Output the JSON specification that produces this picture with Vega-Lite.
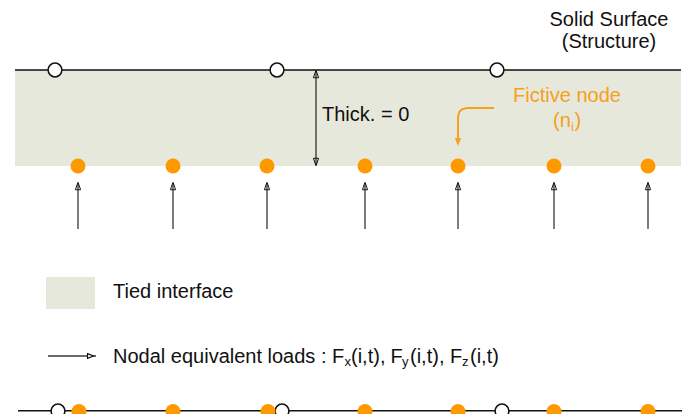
{
  "$schema": "https://vega.github.io/schema/vega-lite/v6.json",
  "width": 691,
  "height": 414,
  "padding": 0,
  "autosize": {"type": "none"},
  "background": "white",
  "config": {"view": {"stroke": null}, "font": "Liberation Sans"},
  "datasets": {
    "band": [
      {"x1": 15, "x2": 681, "y1": 70, "y2": 166},
      {"x1": 46, "x2": 95, "y1": 277, "y2": 309}
    ],
    "surface": [
      {"x1": 15, "x2": 681, "y": 70},
      {"x1": 18, "x2": 682, "y": 410.7}
    ],
    "shafts": [
      {"x": 78, "y1": 184, "y2": 229},
      {"x": 173, "y1": 184, "y2": 229},
      {"x": 267, "y1": 184, "y2": 229},
      {"x": 365, "y1": 184, "y2": 229},
      {"x": 458, "y1": 184, "y2": 229},
      {"x": 554, "y1": 184, "y2": 229},
      {"x": 648, "y1": 184, "y2": 229},
      {"x": 316, "y1": 71, "y2": 165}
    ],
    "legendArrow": [{"x1": 48, "x2": 96, "y": 356}],
    "heads": [
      {"x": 78, "y": 186, "dir": "up"},
      {"x": 173, "y": 186, "dir": "up"},
      {"x": 267, "y": 186, "dir": "up"},
      {"x": 365, "y": 186, "dir": "up"},
      {"x": 458, "y": 186, "dir": "up"},
      {"x": 554, "y": 186, "dir": "up"},
      {"x": 648, "y": 186, "dir": "up"},
      {"x": 316, "y": 74, "dir": "up"},
      {"x": 316, "y": 162, "dir": "down"}
    ],
    "legendHead": [{"x": 90.5, "y": 356}],
    "ghost": [
      {"x": 55, "y": 70}, {"x": 277, "y": 70}, {"x": 497, "y": 70},
      {"x": 58, "y": 411}, {"x": 282, "y": 411}, {"x": 502, "y": 411}
    ],
    "nodes": [
      {"x": 78, "y": 166}, {"x": 173, "y": 166}, {"x": 267, "y": 166}, {"x": 365, "y": 166},
      {"x": 458, "y": 166}, {"x": 554, "y": 166}, {"x": 648, "y": 166},
      {"x": 79, "y": 411.5}, {"x": 173, "y": 411.5}, {"x": 268, "y": 411.5}, {"x": 365, "y": 411.5},
      {"x": 458, "y": 411.5}, {"x": 554, "y": 411.5}, {"x": 648, "y": 411.5}
    ],
    "curve": [
      {"i": 1, "x": 494, "y": 108},
      {"i": 2, "x": 467, "y": 108},
      {"i": 3, "x": 462, "y": 109.3},
      {"i": 4, "x": 459.3, "y": 112},
      {"i": 5, "x": 458, "y": 117},
      {"i": 6, "x": 458, "y": 139}
    ],
    "curveHead": [{"x": 458, "y": 142}],
    "centerLabels": [
      {"t": "Solid Surface", "x": 609, "y": 26},
      {"t": "(Structure)", "x": 609, "y": 48}
    ],
    "orangeLabels": [
      {"t": "Fictive node", "x": 567, "y": 102}
    ],
    "orangeMain": [
      {"t": "(n", "x": 553, "y": 127},
      {"t": ")", "x": 574.5, "y": 127}
    ],
    "orangeSub": [
      {"t": "i", "x": 571, "y": 130.5}
    ],
    "mainText": [
      {"t": "Thick. = 0", "x": 322, "y": 121},
      {"t": "Tied interface", "x": 113, "y": 298},
      {"t": "Nodal equivalent loads : F", "x": 113, "y": 362.5},
      {"t": "(i,t),", "x": 351, "y": 362.5},
      {"t": "F", "x": 390.5, "y": 362.5},
      {"t": "(i,t),", "x": 410, "y": 362.5},
      {"t": "F", "x": 450, "y": 362.5},
      {"t": "(i,t)", "x": 470, "y": 362.5}
    ],
    "subText": [
      {"t": "x", "x": 344.5, "y": 366},
      {"t": "y", "x": 402, "y": 366},
      {"t": "z", "x": 462, "y": 366}
    ]
  },
  "encoding": {
    "x": {"field": "x", "type": "quantitative", "axis": null, "scale": {"domain": [0, 691], "nice": false, "zero": false}},
    "y": {"field": "y", "type": "quantitative", "axis": null, "scale": {"domain": [0, 414], "nice": false, "zero": false, "reverse": true}}
  },
  "layer": [
    {
      "data": {"name": "band"},
      "mark": {"type": "rect", "fill": "#e7e8dc"},
      "encoding": {
        "x": {"field": "x1", "type": "quantitative"},
        "x2": {"field": "x2"},
        "y": {"field": "y1", "type": "quantitative"},
        "y2": {"field": "y2"}
      }
    },
    {
      "data": {"name": "surface"},
      "mark": {"type": "rule", "color": "#111111", "strokeWidth": 1.6},
      "encoding": {
        "x": {"field": "x1", "type": "quantitative"},
        "x2": {"field": "x2"}
      }
    },
    {
      "data": {"name": "shafts"},
      "mark": {"type": "rule", "color": "#111111", "strokeWidth": 1.1},
      "encoding": {
        "y": {"field": "y1", "type": "quantitative"},
        "y2": {"field": "y2"}
      }
    },
    {
      "data": {"name": "legendArrow"},
      "mark": {"type": "rule", "color": "#6b6b6b", "strokeWidth": 2},
      "encoding": {
        "x": {"field": "x1", "type": "quantitative"},
        "x2": {"field": "x2"}
      }
    },
    {
      "data": {"name": "heads"},
      "mark": {"type": "point", "filled": false, "stroke": "#111111", "strokeWidth": 1, "size": 56, "opacity": 1},
      "encoding": {
        "shape": {"field": "dir", "type": "nominal", "legend": null,
          "scale": {"domain": ["up", "down"], "range": ["M-0.7,1L0,-1L0.7,1Z", "M-0.7,-1L0,1L0.7,-1Z"]}}
      }
    },
    {
      "data": {"name": "legendHead"},
      "mark": {"type": "point", "shape": "M-1,-0.8L1,0L-1,0.8Z", "filled": true, "fill": "white", "stroke": "#111111", "strokeWidth": 1.2, "size": 36, "opacity": 1}
    },
    {
      "data": {"name": "curve"},
      "mark": {"type": "line", "color": "#f5a020", "strokeWidth": 2},
      "encoding": {"order": {"field": "i", "type": "quantitative"}}
    },
    {
      "data": {"name": "curveHead"},
      "mark": {"type": "point", "shape": "M-0.8,-1L0.8,-1L0,1Z", "filled": true, "color": "#f5a020", "size": 64, "opacity": 1}
    },
    {
      "data": {"name": "ghost"},
      "mark": {"type": "point", "shape": "circle", "filled": true, "fill": "white", "stroke": "#111111", "strokeWidth": 1.5, "size": 190, "opacity": 1}
    },
    {
      "data": {"name": "nodes"},
      "mark": {"type": "point", "shape": "circle", "filled": true, "color": "#ff9900", "size": 225, "opacity": 1}
    },
    {
      "data": {"name": "centerLabels"},
      "mark": {"type": "text", "align": "center", "baseline": "alphabetic", "fontSize": 20, "color": "#111111"},
      "encoding": {"text": {"field": "t"}}
    },
    {
      "data": {"name": "orangeLabels"},
      "mark": {"type": "text", "align": "center", "baseline": "alphabetic", "fontSize": 20, "color": "#f5a020"},
      "encoding": {"text": {"field": "t"}}
    },
    {
      "data": {"name": "orangeMain"},
      "mark": {"type": "text", "align": "left", "baseline": "alphabetic", "fontSize": 20, "color": "#f5a020"},
      "encoding": {"text": {"field": "t"}}
    },
    {
      "data": {"name": "orangeSub"},
      "mark": {"type": "text", "align": "left", "baseline": "alphabetic", "fontSize": 13, "color": "#f5a020"},
      "encoding": {"text": {"field": "t"}}
    },
    {
      "data": {"name": "mainText"},
      "mark": {"type": "text", "align": "left", "baseline": "alphabetic", "fontSize": 20, "color": "#111111"},
      "encoding": {"text": {"field": "t"}}
    },
    {
      "data": {"name": "subText"},
      "mark": {"type": "text", "align": "left", "baseline": "alphabetic", "fontSize": 13, "color": "#111111"},
      "encoding": {"text": {"field": "t"}}
    }
  ]
}
